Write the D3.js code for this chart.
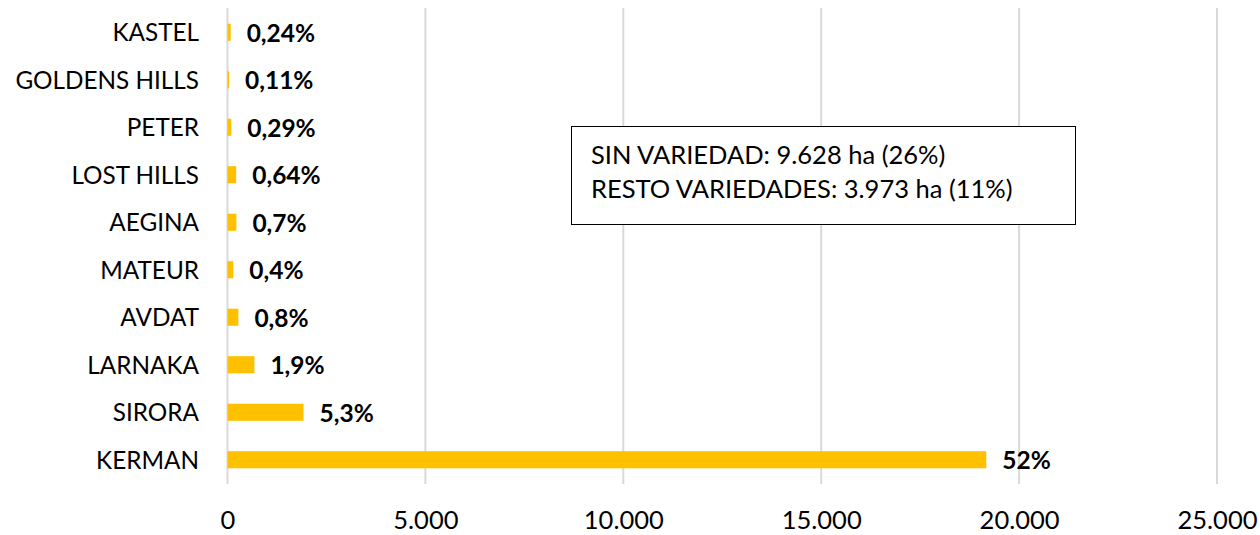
<!DOCTYPE html>
<html>
<head>
<meta charset="utf-8">
<script src="https://cdn.jsdelivr.net/npm/d3@7"></script>
<style>
  body { margin: 0; background: #fff; }
  svg { display: block; font-family: Lato, "Open Sans", sans-serif; }
</style>
</head>
<body>
<div id="chart"></div>
<script>
"use strict";

// data (hectares), top to bottom
var categories = ["KASTEL", "GOLDENS HILLS", "PETER", "LOST HILLS", "AEGINA",
                  "MATEUR", "AVDAT", "LARNAKA", "SIRORA", "KERMAN"];
var hectares = [80, 38, 95, 220, 225, 145, 275, 680, 1920, 19170];
var pctLabels = ["0,24%", "0,11%", "0,29%", "0,64%", "0,7%",
                 "0,4%", "0,8%", "1,9%", "5,3%", "52%"];
var xTicks = [0, 5000, 10000, 15000, 20000, 25000];
var noteLines = ["SIN VARIEDAD: 9.628 ha (26%)", "RESTO VARIEDADES: 3.973 ha (11%)"];

var W = 1260, H = 535;

var svg = d3.select("#chart").append("svg")
  .attr("width", W).attr("height", H);

var x = d3.scaleLinear().domain([0, 25000]).range([227.5, 1217]);
var y = d3.scaleBand().domain(categories).range([8.5, 483.5]).paddingInner(0.64).paddingOuter(0.32);

var fmt = function (v) { return d3.format(",")(v).replace(/,/g, "."); };

// gridlines
svg.append("g").selectAll("line")
  .data(xTicks)
  .enter().append("line")
  .attr("x1", function (d) { return x(d); })
  .attr("x2", function (d) { return x(d); })
  .attr("y1", 8).attr("y2", 484)
  .attr("stroke", "#d9d9d9").attr("stroke-width", 2);

// x axis labels
var xAxis = svg.append("g")
  .attr("transform", "translate(0,484)")
  .call(d3.axisBottom(x).tickValues(xTicks).tickFormat(fmt).tickSize(0));
xAxis.select(".domain").remove();
xAxis.selectAll("text")
  .attr("font-family", "Lato, sans-serif")
  .attr("font-size", 25.5)
  .attr("fill", "#000")
  .attr("y", 45)
  .attr("dy", 0);

// y axis labels
var yAxis = svg.append("g")
  .attr("transform", "translate(199,0)")
  .call(d3.axisLeft(y).tickSize(0).tickPadding(0));
yAxis.select(".domain").remove();
yAxis.selectAll("text")
  .attr("font-family", "Lato, sans-serif")
  .attr("font-size", 24.3)
  .attr("fill", "#000")
  .attr("dy", "0.36em");

// bars
svg.append("g").selectAll("rect")
  .data(categories)
  .enter().append("rect")
  .attr("x", x(0))
  .attr("y", function (d) { return y(d); })
  .attr("width", function (d, i) { return x(hectares[i]) - x(0); })
  .attr("height", y.bandwidth())
  .attr("fill", "#ffc000");

// data labels
svg.append("g").selectAll("text")
  .data(categories)
  .enter().append("text")
  .attr("x", function (d, i) { return x(hectares[i]) + 16; })
  .attr("y", function (d) { return y(d) + y.bandwidth() / 2; })
  .attr("dy", "0.38em")
  .attr("font-size", 24.5)
  .attr("font-weight", "bold")
  .attr("fill", "#000")
  .text(function (d, i) { return pctLabels[i]; });

// note box
var note = svg.append("g");
note.append("rect")
  .attr("x", 571.5).attr("y", 126.5)
  .attr("width", 504).attr("height", 98)
  .attr("fill", "#fff").attr("stroke", "#000").attr("stroke-width", 1);
note.selectAll("text")
  .data(noteLines)
  .enter().append("text")
  .attr("x", 591)
  .attr("y", function (d, i) { return 164 + i * 34; })
  .attr("font-size", 25.5)
  .attr("fill", "#000")
  .text(function (d) { return d; });
</script>
</body>
</html>
